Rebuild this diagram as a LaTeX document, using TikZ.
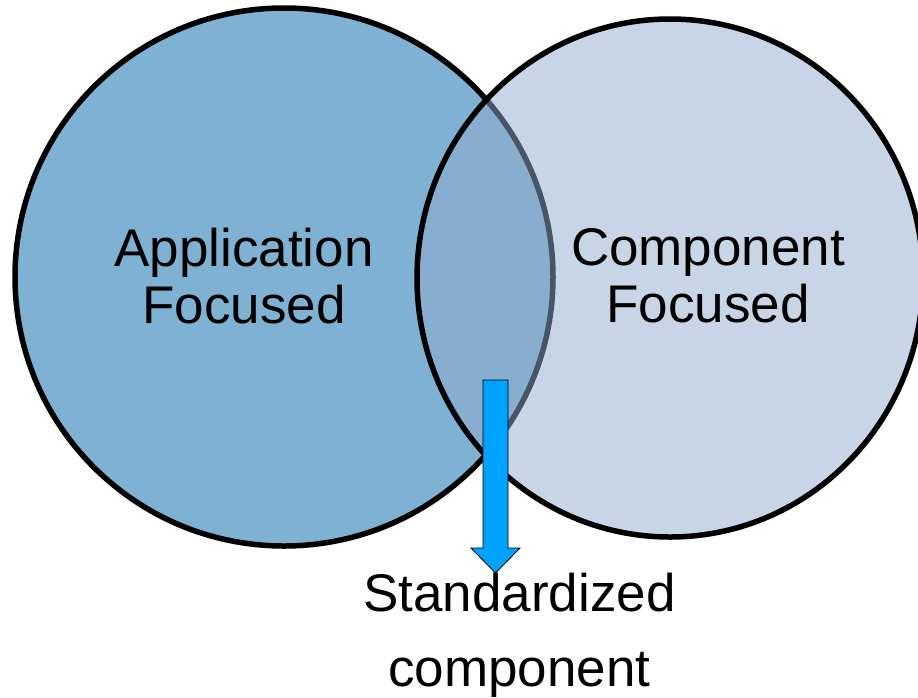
\documentclass[tikz,border=0pt]{standalone}
\usepackage{fontspec}
\setmainfont{Liberation Sans}
\usetikzlibrary{positioning, shapes.geometric}
\definecolor{appblue}{RGB}{127,178,210}
\definecolor{compblue}{RGB}{145,171,205}
\definecolor{stdblue}{RGB}{0,162,255}

\begin{document}
\begin{tikzpicture}[
  x=1pt, y=-1pt,
  every node/.style={font=\fontsize{53}{57}\selectfont, align=center},
  venn/.style={ellipse, draw=black, line width=5.5pt, inner sep=0pt},
  stdarrow/.style={fill=stdblue, draw=black, line width=0.8pt}
]
\clip (0,0) rectangle (918,697);
% the two sets
\node[venn, fill=appblue, minimum width=538, minimum height=538] (app) at (284,277) {};
\node[venn, fill=compblue, fill opacity=0.5, minimum width=506, minimum height=518] (comp) at (670,278) {};
\node (applbl) at (244,276) {Application\\Focused};
\node (complbl) at (708,276) {Component\\Focused};
% arrow out of the overlap
\coordinate (tail) at (495.5,380);
\coordinate (tip) at (495.5,573);
\draw[stdarrow] (tail) ++(-12.5,0) -- ++(25,0) -- ++(0,168) -- ++(12,0)
  -- (tip) -- ++(-24.5,-25) -- ++(12,0) -- cycle;
\node[below=0pt of tip, xshift=24pt, inner sep=0pt, font=\fontsize{53}{75}\selectfont] (stdlbl) {Standardized\\component};
\end{tikzpicture}
\end{document}
